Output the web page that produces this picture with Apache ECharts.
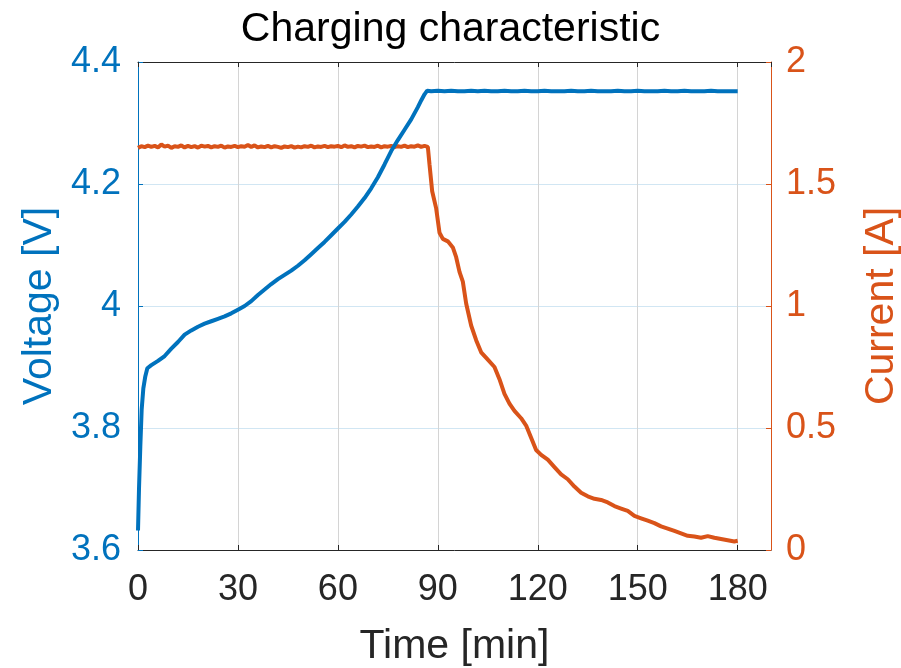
<!DOCTYPE html>
<html>
<head>
<meta charset="utf-8">
<title>Charging characteristic</title>
<script src="https://cdn.jsdelivr.net/npm/echarts@6/dist/echarts.min.js"></script>
<style>
  html, body { margin: 0; padding: 0; background: #ffffff; }
  #chart { width: 901px; height: 668px; }
</style>
</head>
<body>
<div id="chart"></div>
<script>
// Voltage (left axis)
const voltTime = [0, 0.3, 0.7, 1.1, 1.6, 2.2, 2.8, 4, 6, 8, 10, 12, 14, 16, 18, 20, 22, 24, 26, 28,
    30, 32, 34, 36, 38, 40, 42, 44, 46, 48, 50, 52, 54, 56, 58, 60, 62, 64, 66, 68,
    70, 72, 74, 76, 78, 80, 82, 84, 85, 86, 86.8, 88, 90, 92, 94, 96, 98, 100, 102, 104,
    106, 108, 110, 112, 114, 116, 118, 120, 122, 124, 126, 128, 130, 132, 134, 136, 138, 140, 142, 144,
    146, 148, 150, 152, 154, 156, 158, 160, 162, 164, 166, 168, 170, 172, 174, 176, 178, 180];
const voltValues = [3.632, 3.70, 3.77, 3.83, 3.865, 3.885, 3.898, 3.903, 3.91, 3.918, 3.93, 3.941, 3.953, 3.96, 3.966, 3.971, 3.975, 3.979, 3.983, 3.988,
    3.994, 4.0, 4.008, 4.018, 4.027, 4.036, 4.044, 4.051, 4.058, 4.066, 4.075, 4.085, 4.095, 4.105, 4.116, 4.127, 4.138, 4.15, 4.163, 4.177,
    4.193, 4.211, 4.232, 4.254, 4.272, 4.289, 4.306, 4.326, 4.337, 4.347, 4.353, 4.352, 4.353, 4.352, 4.353, 4.352, 4.352, 4.353, 4.352, 4.353,
    4.352, 4.352, 4.353, 4.352, 4.352, 4.353, 4.352, 4.352, 4.353, 4.352, 4.352, 4.352, 4.353, 4.352, 4.352, 4.353, 4.352, 4.352, 4.352, 4.353,
    4.352, 4.352, 4.353, 4.352, 4.352, 4.352, 4.353, 4.352, 4.352, 4.353, 4.352, 4.352, 4.352, 4.353, 4.352, 4.352, 4.352, 4.352];

// Current (right axis)
const currTime = [0, 1, 2, 3, 4, 5, 6, 7, 8, 9, 10, 11, 12, 13, 14, 15, 16, 17, 18, 19,
    20, 21, 22, 23, 24, 25, 26, 27, 28, 29, 30, 31, 32, 33, 34, 35, 36, 37, 38, 39,
    40, 41, 42, 43, 44, 45, 46, 47, 48, 49, 50, 51, 52, 53, 54, 55, 56, 57, 58, 59,
    60, 61, 62, 63, 64, 65, 66, 67, 68, 69, 70, 71, 72, 73, 74, 75, 76, 77, 78, 79,
    80, 81, 82, 83, 84, 85, 86, 87, 87.5, 88.3, 89.5, 90.5, 91.5, 93, 94.5, 95.5, 96.5, 97.5, 98.5, 100,
    101.5, 103, 105, 107, 108.5, 110, 111.5, 113, 115, 116.5, 118, 119.5, 121, 123, 125, 127, 129, 131, 133, 135,
    137, 139, 141, 143, 145, 147, 149, 151, 153, 155, 157, 159, 161, 163, 165, 167, 169, 171, 173, 175,
    177, 179, 180];
const currValues = [1.648, 1.655, 1.651, 1.657, 1.652, 1.656, 1.65, 1.662, 1.653, 1.657, 1.648, 1.655, 1.652, 1.658, 1.65, 1.656, 1.651, 1.655, 1.649, 1.657,
    1.653, 1.656, 1.65, 1.655, 1.652, 1.657, 1.649, 1.654, 1.652, 1.656, 1.651, 1.655, 1.653, 1.66, 1.652, 1.658, 1.65, 1.654, 1.651, 1.656,
    1.65, 1.655, 1.652, 1.648, 1.654, 1.651, 1.655, 1.649, 1.653, 1.65, 1.655, 1.652, 1.657, 1.65, 1.654, 1.652, 1.656, 1.651, 1.655, 1.653,
    1.656, 1.651, 1.658, 1.652, 1.655, 1.65, 1.656, 1.653, 1.657, 1.651, 1.654, 1.652, 1.657, 1.65, 1.655, 1.653, 1.656, 1.651, 1.655, 1.652,
    1.657, 1.651, 1.655, 1.653, 1.658, 1.652, 1.656, 1.652, 1.58, 1.47, 1.40, 1.30, 1.275, 1.265, 1.24, 1.20, 1.14, 1.10, 1.01, 0.92,
    0.86, 0.81, 0.78, 0.75, 0.70, 0.64, 0.60, 0.57, 0.54, 0.51, 0.46, 0.41, 0.39, 0.37, 0.34, 0.31, 0.29, 0.26, 0.235, 0.22,
    0.21, 0.205, 0.195, 0.18, 0.17, 0.16, 0.14, 0.13, 0.12, 0.11, 0.097, 0.088, 0.078, 0.068, 0.058, 0.055, 0.05, 0.057, 0.05, 0.045,
    0.04, 0.035, 0.038];

const timeTicks = [0, 30, 60, 90, 120, 150, 180];

const BLUE = '#0072BD';
const ORANGE = '#D95319';
const DARK = '#262626';
const FONT = 'Liberation Sans';

const chart = echarts.init(document.getElementById('chart'));

const voltData = voltTime.map((t, i) => [t, voltValues[i]]);
const currData = currTime.map((t, i) => [t, currValues[i]]);

const option = {
    animation: false,
    backgroundColor: '#ffffff',
    title: {
        text: 'Charging characteristic',
        left: 'center',
        top: 4,
        textStyle: { fontFamily: FONT, fontSize: 41, fontWeight: 'normal', color: '#000000' }
    },
    // fixed plot box, labels may sit outside it
    grid: { left: 138, right: 130, top: 62, bottom: 118, containLabel: false, outerBoundsMode: 'none' },
    xAxis: [
        {
            type: 'value',
            min: 0,
            max: 190,
            interval: 30,
            name: 'Time [min]',
            nameLocation: 'middle',
            nameGap: 76,
            nameTextStyle: { fontFamily: FONT, fontSize: 41, color: DARK },
            axisLine: { show: true, onZero: false, lineStyle: { color: DARK, width: 1 } },
            axisTick: { show: true, inside: true, length: 5, lineStyle: { color: DARK } },
            axisLabel: {
                fontFamily: FONT, fontSize: 36, color: DARK, margin: 22,
                showMaxLabel: false,
                formatter: v => (timeTicks.indexOf(v) >= 0 ? String(v) : '')
            },
            splitLine: { show: true, lineStyle: { color: '#d4d4d4', width: 1 } }
        },
        {
            type: 'value',
            position: 'top',
            min: 0,
            max: 190,
            interval: 30,
            axisLine: { show: true, onZero: false, lineStyle: { color: DARK, width: 1 } },
            axisTick: { show: true, inside: true, length: 5, lineStyle: { color: DARK } },
            axisLabel: { show: false },
            splitLine: { show: false }
        }
    ],
    yAxis: [
        {
            type: 'value',
            position: 'left',
            min: 3.6,
            max: 4.4,
            interval: 0.2,
            name: 'Voltage [V]',
            nameLocation: 'middle',
            nameGap: 76,
            nameTextStyle: { fontFamily: FONT, fontSize: 41, color: BLUE },
            axisLine: { show: true, onZero: false, lineStyle: { color: BLUE, width: 1 } },
            axisTick: { show: true, inside: true, length: 5, lineStyle: { color: BLUE } },
            axisLabel: { fontFamily: FONT, fontSize: 36, color: BLUE, margin: 17 },
            splitLine: { show: true, lineStyle: { color: 'rgba(0,114,189,0.18)', width: 1 } }
        },
        {
            type: 'value',
            position: 'right',
            min: 0,
            max: 2,
            interval: 0.5,
            name: 'Current [A]',
            nameLocation: 'middle',
            nameGap: 90,
            nameTextStyle: { fontFamily: FONT, fontSize: 41, color: ORANGE },
            axisLine: { show: true, onZero: false, lineStyle: { color: ORANGE, width: 1 } },
            axisTick: { show: true, inside: true, length: 5, lineStyle: { color: ORANGE } },
            axisLabel: { fontFamily: FONT, fontSize: 36, color: ORANGE, margin: 15 },
            splitLine: { show: false }
        }
    ],
    series: [
        {
            name: 'Voltage',
            type: 'line',
            xAxisIndex: 0,
            yAxisIndex: 0,
            showSymbol: false,
            symbol: 'none',
            data: voltData,
            lineStyle: { color: BLUE, width: 4 },
            z: 3
        },
        {
            name: 'Current',
            type: 'line',
            xAxisIndex: 0,
            yAxisIndex: 1,
            showSymbol: false,
            symbol: 'none',
            data: currData,
            lineStyle: { color: ORANGE, width: 4 },
            z: 2
        }
    ]
};

chart.setOption(option);
</script>
</body>
</html>
